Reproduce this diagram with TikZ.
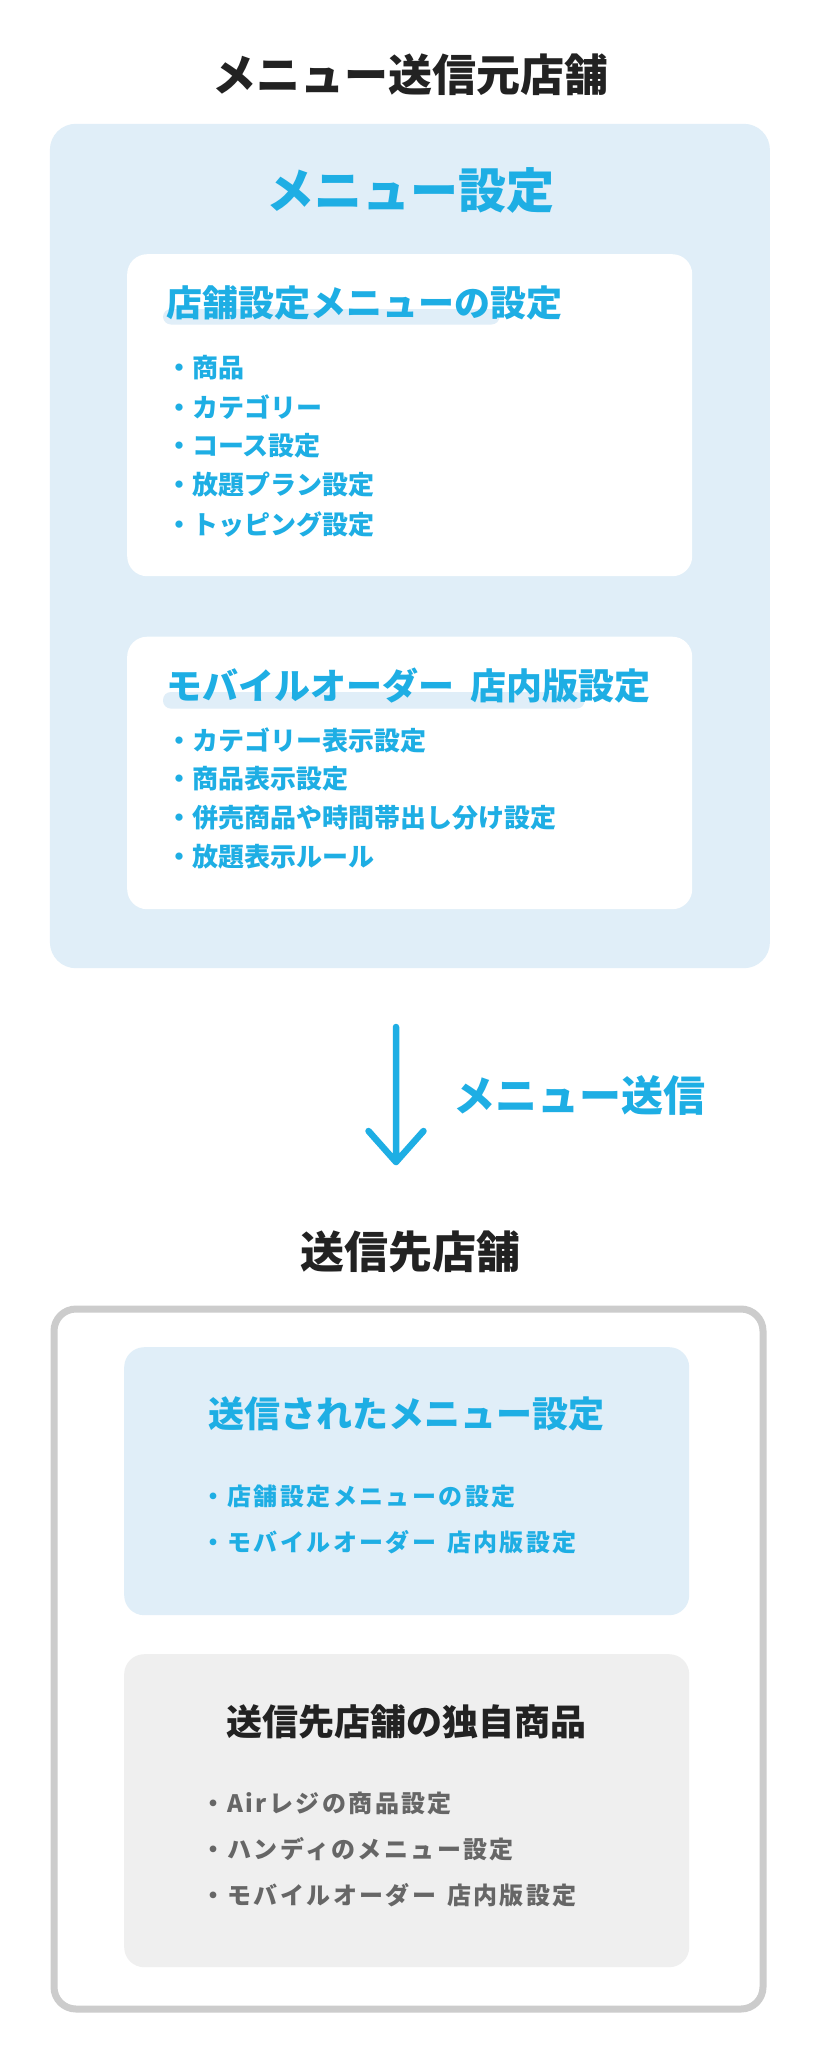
\documentclass[tikz,border=0pt]{standalone}
\usepackage{fontspec}
\usepackage{tikz}
\usetikzlibrary{positioning}
\setmainfont{Noto Sans CJK JP}
\definecolor{airblue}{HTML}{1EAEE4}
\definecolor{paleblue}{HTML}{E0EEF8}
\definecolor{ink}{HTML}{222222}
\definecolor{mute}{HTML}{666666}
\definecolor{cardgray}{HTML}{EFEFEF}
\definecolor{rimgray}{HTML}{CCCCCC}
\newcommand{\px}[1]{\fontsize{#1}{#1}\selectfont\bfseries}
\newcommand{\gap}{\hspace{0.45em}}
\tikzset{
  head/.style={inner sep=0pt,text=ink,font=\px{44}},
  panel/.style={fill=paleblue,rounded corners=26pt,inner sep=0pt,anchor=north west},
  card/.style={fill=white,rounded corners=20pt,inner sep=0pt,anchor=north west},
  sub/.style={inner sep=0pt,text=airblue,font=\px{36},anchor=west},
  item/.style={inner sep=0pt,text=airblue,font=\px{26},anchor=west},
  spaced/.style={inner sep=0pt,font=\px{24}\addfontfeature{LetterSpace=10},anchor=west},
  underbar/.style={fill=paleblue,rounded corners=8pt},
  sendline/.style={airblue,line width=6.5pt,line cap=round,line join=round}
}
\begin{document}
\begin{tikzpicture}[x=1pt,y=-1pt]
  \useasboundingbox[fill=white] (0,0) rectangle (820,2050);

  \node[head] (srctitle) at (410,75) {メニュー送信元店舗};
  \node[panel,minimum width=720pt,minimum height=844.4pt] (srcpanel) at (49.7,123.6) {};
  \node[inner sep=0pt,text=airblue,font=\px{48}] (menutitle) at (410,190) {メニュー設定};

  \node[card,minimum width=565pt,minimum height=322pt] (shopcard) at (127,254) {};
  \fill[underbar] (163,309) rectangle (499.5,324.5);
  \node[sub] (shopsub) at (166,303) {店舗設定メニューの設定};
  \foreach \t [count=\i] in {商品,カテゴリー,コース設定,放題プラン設定,トッピング設定}
    \node[item] (shopitem\i) at (166,368+39*\i-39) {・\t};

  \node[card,minimum width=565pt,minimum height=272.5pt] (mocard) at (127,636.5) {};
  \fill[underbar] (163,692) rectangle (584.7,708.6);
  \node[sub] (mosub) at (166,686) {モバイルオーダー\gap 店内版設定};
  \foreach \t [count=\i] in {カテゴリー表示設定,商品表示設定,併売商品や時間帯出し分け設定,放題表示ルール}
    \node[item] (moitem\i) at (166,740+39*\i-39) {・\t};

  \coordinate (arrtop) at (396,1027);
  \coordinate (arrtip) at (396,1162);
  \draw[sendline] (arrtop) -- (arrtip) -- ++(-27.5,-31) (arrtip) -- ++(27.5,-31);
  \node[inner sep=0pt,text=airblue,font=\px{42},anchor=west] (sendlabel) at (453,1095) {メニュー送信};

  \node[head] (dsttitle) at (410,1252) {送信先店舗};
  \node[draw=rimgray,line width=7pt,fill=white,rounded corners=22pt,inner sep=0pt,anchor=north west,
        minimum width=709pt,minimum height=700pt] (dstframe) at (50.5,1305.5) {};

  \node[panel,rounded corners=20pt,minimum width=565pt,minimum height=268pt] (recvcard) at (124,1347) {};
  \node[sub,anchor=center] (recvsub) at (406,1414) {送信されたメニュー設定};
  \node[spaced,text=airblue] (recvitem1) at (201,1496.4) {・店舗設定メニューの設定};
  \node[spaced,text=airblue] (recvitem2) at (201,1542) {・モバイルオーダー\gap 店内版設定};

  \node[panel,fill=cardgray,rounded corners=20pt,minimum width=565pt,minimum height=313pt] (owncard) at (124,1654) {};
  \node[inner sep=0pt,text=ink,font=\px{36}] (ownsub) at (406,1722) {送信先店舗の独自商品};
  \node[spaced,text=mute] (ownitem1) at (201,1803.6) {・Airレジの商品設定};
  \node[spaced,text=mute] (ownitem2) at (201,1849.5) {・ハンディのメニュー設定};
  \node[spaced,text=mute] (ownitem3) at (201,1895.4) {・モバイルオーダー\gap 店内版設定};
\end{tikzpicture}
\end{document}
